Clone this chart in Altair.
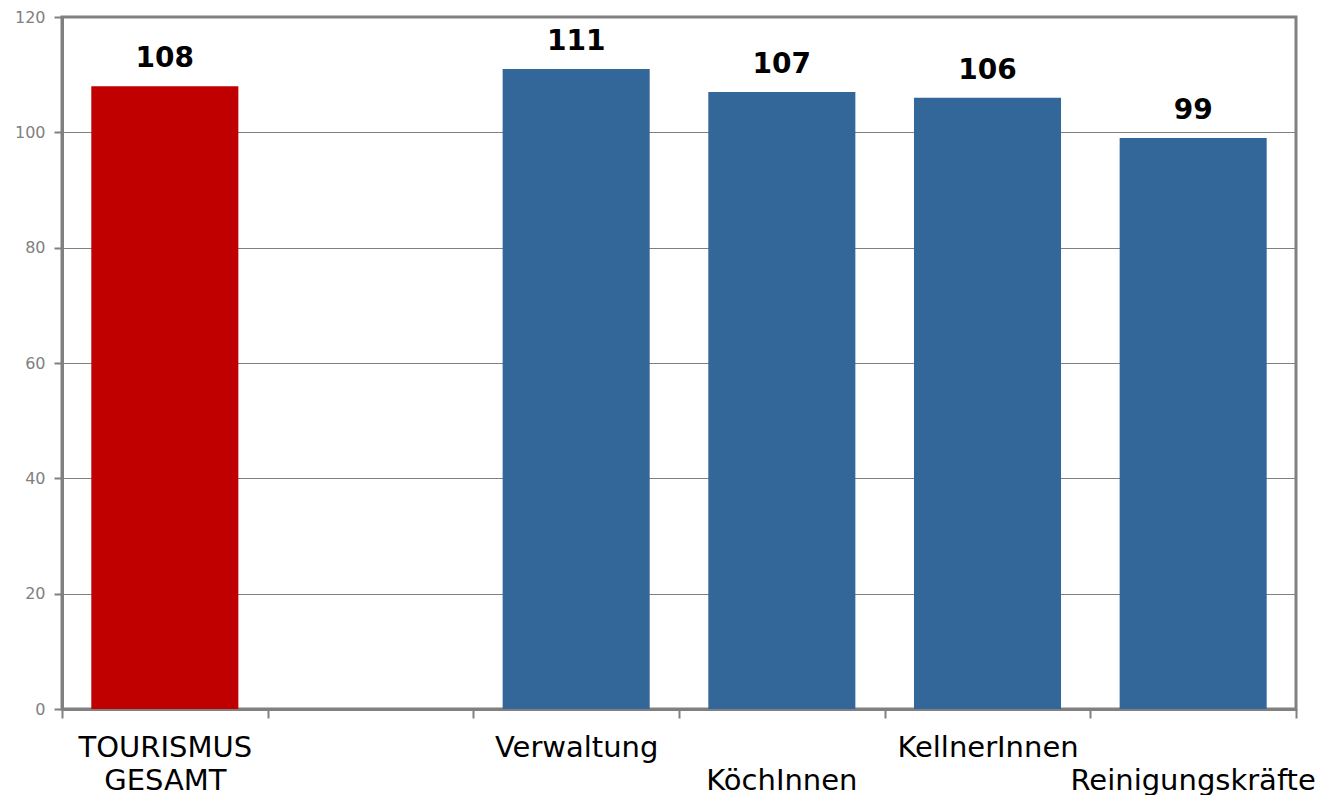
import altair as alt
import pandas as pd

categories = ["TOURISMUS GESAMT", " ", "Verwaltung", "KöchInnen", "KellnerInnen", "Reinigungskräfte"]
values = [108, None, 111, 107, 106, 99]
colors = ["#C00000", "#336699", "#336699", "#336699", "#336699", "#336699"]
row1 = ["TOURISMUS GESAMT", "Verwaltung", "KellnerInnen"]
row2 = ["KöchInnen", "Reinigungskräfte"]
y_ticks = [0, 20, 40, 60, 80, 100, 120]

df = pd.DataFrame({"cat": categories, "value": values, "color": colors})

FONT = "DejaVu Sans"
GRAY = "#808080"

xscale = alt.Scale(domain=categories, paddingInner=0, paddingOuter=0)
yscale = alt.Scale(domain=[0, 120])

row1_expr = "indexof(" + str(row1) + ", datum.label) >= 0 ? split(datum.label, ' ') : ''"
row2_expr = "indexof(" + str(row2) + ", datum.label) >= 0 ? datum.label : ''"

y_axis = alt.Axis(values=y_ticks, grid=True, gridColor=GRAY, gridWidth=1,
                  domainColor=GRAY, domainWidth=3, tickColor=GRAY, tickWidth=2,
                  tickSize=8, labelPadding=9, labelFont=FONT, labelFontSize=16,
                  labelColor=GRAY)

bars = alt.Chart(df).mark_bar(width=alt.RelativeBandSize(0.715)).encode(
    x=alt.X("cat:N", sort=categories, scale=xscale, title=None,
            axis=alt.Axis(orient="bottom", labelExpr=row1_expr, labelAngle=0, tickBand="extent",
                          domainColor=GRAY, domainWidth=3, tickColor=GRAY, tickWidth=2,
                          tickSize=9, labelPadding=15, labelFont=FONT, labelFontSize=29,
                          labelColor="#000000", labelBaseline="top", labelLineHeight=33,
                          labelLimit=400, grid=False)),
    y=alt.Y("value:Q", scale=yscale, title=None, axis=y_axis),
    color=alt.Color("color:N", scale=None),
)

texts = alt.Chart(df).transform_filter("isValid(datum.value)").mark_text(
    font=FONT, fontSize=28, fontWeight="bold", color="#000000",
    baseline="alphabetic", dy=-19,
).encode(
    x=alt.X("cat:N", sort=categories, scale=xscale, title=None,
            axis=alt.Axis(orient="bottom", labelExpr=row2_expr, labelAngle=0, domain=False,
                          ticks=False, grid=False, labelPadding=57, labelFont=FONT,
                          labelFontSize=29, labelColor="#000000", labelBaseline="top",
                          labelLimit=400)),
    y=alt.Y("value:Q", scale=yscale, title=None, axis=y_axis),
    text=alt.Text("value:Q"),
)

chart = alt.layer(bars, texts).resolve_axis(x="independent").properties(
    width=1234, height=692,
    autosize=alt.AutoSizeParams(type="none"),
    padding={"left": 54, "top": 9, "right": 19, "bottom": 86},
).configure(background="white").configure_view(stroke=GRAY, strokeWidth=3)

chart.save("out.html", embed_options={"renderer": "svg", "actions": False})
